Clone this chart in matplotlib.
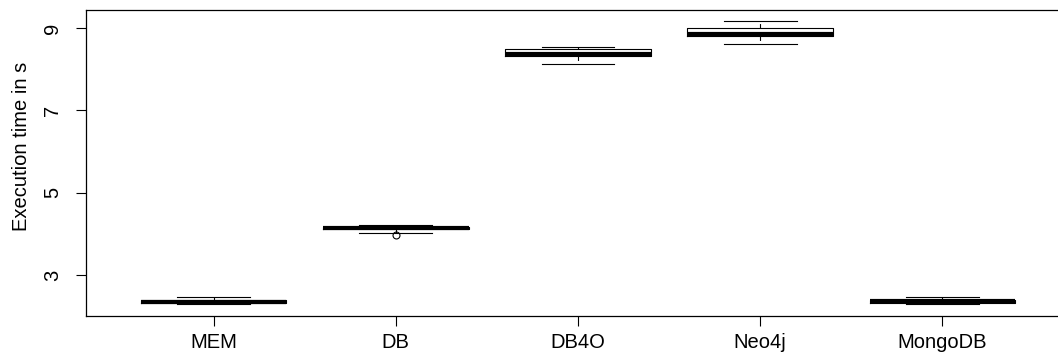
import matplotlib
matplotlib.use("Agg")
import matplotlib.pyplot as plt

plt.rcParams['font.family'] = ['Liberation Sans', 'DejaVu Sans']

labels = ["MEM", "DB", "DB4O", "Neo4j", "MongoDB"]
whis_lo = [2.29, 4.02, 8.12, 8.60, 2.29]
q1 = [2.32, 4.12, 8.32, 8.81, 2.32]
med = [2.36, 4.14, 8.36, 8.86, 2.37]
q3 = [2.41, 4.16, 8.48, 8.99, 2.41]
whis_hi = [2.47, 4.23, 8.54, 9.18, 2.48]
fliers = [[], [3.97], [], [], []]

stats = []
for i in range(len(labels)):
    stats.append(dict(label=labels[i], whislo=whis_lo[i], q1=q1[i], med=med[i],
                      q3=q3[i], whishi=whis_hi[i], fliers=fliers[i]))

fig = plt.figure(figsize=(10.58, 3.54), dpi=100)
# plot region runs past the right edge of the picture, as in the reference
ax = fig.add_axes([86/1058, 38/354, 984/1058, 306/354])

ax.bxp(stats, positions=range(1, 6), widths=0.8, capwidths=0.4,
       boxprops=dict(color='black', linewidth=0.8),
       medianprops=dict(color='black', linewidth=3),
       whiskerprops=dict(color='black', linewidth=0.8, linestyle=(0, (4, 3))),
       capprops=dict(color='black', linewidth=0.8),
       flierprops=dict(marker='o', markerfacecolor='none', markeredgecolor='black',
                       markersize=5, markeredgewidth=0.8))

fs = 14.5
ax.set_xlim(0.3, 5.7)
ax.set_ylim(2.01, 9.437)
ax.set_yticks([3, 5, 7, 9])
ax.set_yticklabels(["3", "5", "7", "9"], rotation=90, va='center', fontsize=fs)
ax.set_xticks(range(1, 6))
ax.set_xticklabels(labels, fontsize=fs)
ax.tick_params(axis='x', length=7, width=0.8, pad=5)
ax.tick_params(axis='y', length=7, width=0.8, pad=10)
ax.set_ylabel("Execution time in s", fontsize=fs)
ax.yaxis.set_label_coords(-0.056, 0.555)
for s in ax.spines.values():
    s.set_linewidth(0.9)

fig.savefig("out.png", dpi=100)
